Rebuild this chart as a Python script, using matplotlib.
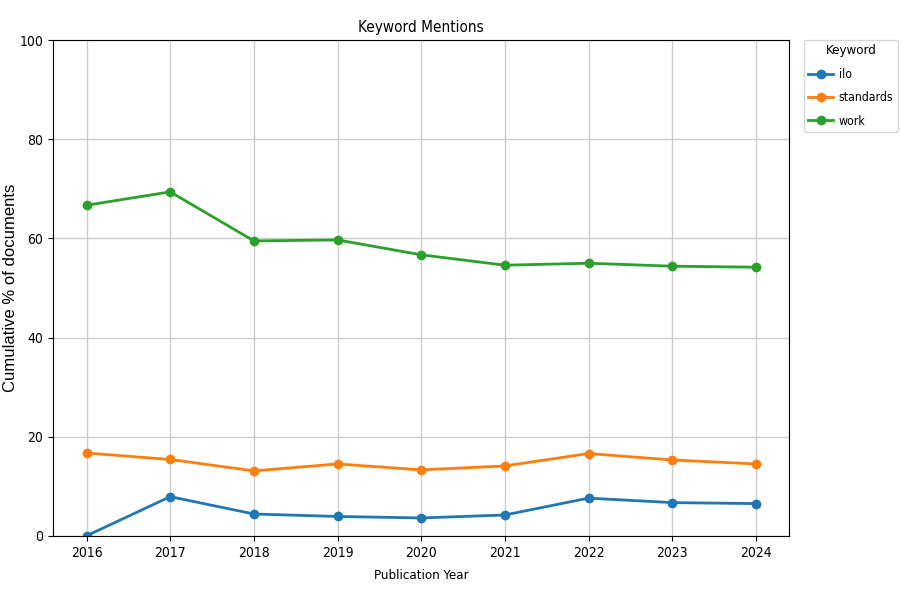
import matplotlib
matplotlib.use('Agg')
import matplotlib.pyplot as plt

YEARS = [2016, 2017, 2018, 2019, 2020, 2021, 2022, 2023, 2024]
ILO = [0.0, 7.9, 4.4, 3.9, 3.6, 4.2, 7.6, 6.7, 6.5]
STANDARDS = [16.7, 15.4, 13.1, 14.5, 13.3, 14.1, 16.6, 15.3, 14.5]
WORK = [66.7, 69.4, 59.5, 59.7, 56.7, 54.6, 55.0, 54.4, 54.2]
KEYWORDS = ['ilo', 'standards', 'work']


def main():
    plt.rcParams['font.family'] = ['DejaVu Sans']
    plt.rcParams['font.stretch'] = 'condensed'
    fig, ax = plt.subplots(figsize=(9, 6), dpi=100)

    for name, values in zip(KEYWORDS, [ILO, STANDARDS, WORK]):
        ax.plot(YEARS, values, marker='o', markersize=6, linewidth=2, label=name)

    ax.set_ylim(0, 100)
    ax.set_xticks(YEARS)
    ax.grid(True, color='#cccccc', linewidth=1)
    ax.set_title('Keyword Mentions', fontsize=11)
    ax.set_xlabel('Publication Year', fontsize=9.5, labelpad=7)
    ax.set_ylabel('Cumulative % of documents', fontsize=12,
                  family=['Liberation Sans', 'DejaVu Sans'], stretch='normal')
    ax.yaxis.set_label_coords(-0.047, 0.5)
    ax.tick_params(labelsize=10)
    ax.legend(title='Keyword', loc='upper left', bbox_to_anchor=(1.02, 1.0),
              fontsize=8.8, title_fontsize=9.5, borderaxespad=0,
              handletextpad=0.5, labelspacing=0.85, borderpad=0.35)

    fig.subplots_adjust(left=0.059, right=0.877, top=0.933, bottom=0.107)
    fig.savefig('out.png', dpi=100)


if __name__ == "__main__":
    main()
